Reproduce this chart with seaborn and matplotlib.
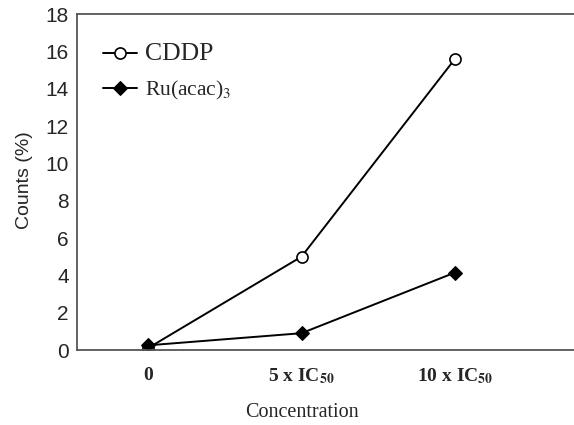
import matplotlib
matplotlib.use("Agg")
import matplotlib.pyplot as plt
import seaborn as sns
import pandas as pd

categories = ["0", "5 x IC$_{\\mathbf{50}}$", "10 x IC$_{\\mathbf{50}}$"]
cddp = [0.1, 5.0, 15.6]
ru = [0.25, 0.9, 4.15]
series_names = ["CDDP", "Ru(acac)$_3$"]

df = pd.DataFrame({
    "x": list(range(len(categories))) * 2,
    "y": cddp + ru,
    "s": [series_names[0]] * 3 + [series_names[1]] * 3,
})

sns.set_style("white")
plt.rcParams['font.family'] = ['Liberation Sans', 'DejaVu Sans']
plt.rcParams['mathtext.fontset'] = 'stix'

fig = plt.figure(figsize=(5.74, 4.25), dpi=100)
ax = fig.add_axes([77/574, 1 - 350/425, (640-77)/574, (350-14)/425])

sns.lineplot(data=df[df.s == series_names[0]], x="x", y="y", ax=ax, color="black",
             marker="o", markersize=8, markerfacecolor="white", markeredgecolor="black",
             markeredgewidth=1.2, linewidth=1.4, label=series_names[0])
sns.lineplot(data=df[df.s == series_names[1]], x="x", y="y", ax=ax, color="black",
             marker="D", markersize=7.5, markerfacecolor="black", markeredgecolor="black",
             linewidth=1.4, label=series_names[1])

ax.set_xlim(-0.4625, 3.205)
ax.set_ylim(0, 18)
ax.set_yticks(range(0, 19, 2))
ax.set_yticklabels([str(v) for v in range(0, 19, 2)], fontsize=15)
ax.set_xticks(range(len(categories)))
ax.set_xticklabels(categories, fontsize=14, fontweight="bold", family="Liberation Serif")
ax.tick_params(axis="x", which="major", length=0, pad=12)
ax.set_xticks([0.5, 1.5], minor=True)
ax.tick_params(axis="x", which="minor", length=4, width=1, direction="out", color="#555555")
ax.tick_params(axis="y", length=4, width=1, direction="out", color="#555555", pad=2)

for side in ["left", "bottom", "top"]:
    ax.spines[side].set_visible(True)
    ax.spines[side].set_color("#555555")
    ax.spines[side].set_linewidth(1.3)
ax.spines["right"].set_visible(False)

ax.set_xlabel("Concentration", fontsize=14.5, family="Liberation Serif")
ax.xaxis.set_label_coords((302 - 77) / 563, -53 / 336)
ax.set_ylabel("Counts (%)", fontsize=14)
ax.yaxis.set_label_coords(-(77 - 33) / 563, (350 - 180) / 336)

leg = ax.legend(loc="upper left", bbox_to_anchor=(0.046, 0.913), frameon=False,
                borderaxespad=0, borderpad=0,
                handlelength=1.58, labelspacing=0.64, handletextpad=0.37,
                prop={"family": "Liberation Serif", "size": 15.5})
texts = leg.get_texts()
texts[0].set_fontsize(18.5)

fig.savefig("out.png", dpi=100)
